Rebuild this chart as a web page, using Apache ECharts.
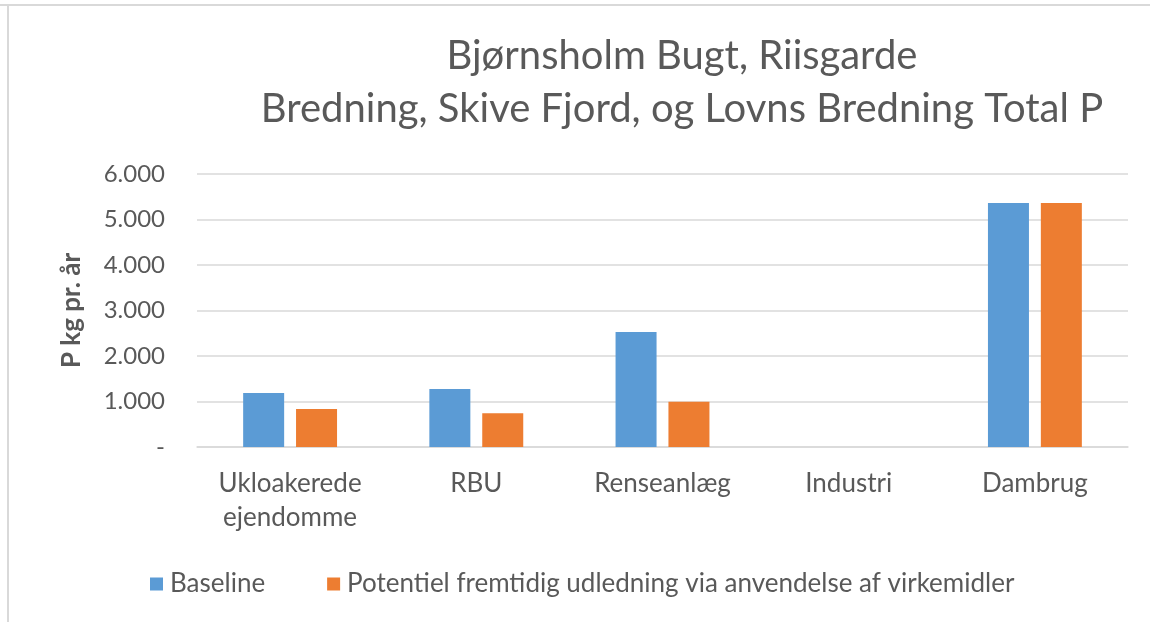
<!DOCTYPE html>
<html>
	<head>
		<meta charset="UTF-8">
		<title>Total P</title>
		<script src="https://cdn.jsdelivr.net/npm/echarts@6/dist/echarts.min.js"></script>
		<style type="text/css">
			body {
				margin: 0;
				background: #fff;
			}
			#chart {
				width: 1150px;
				height: 622px;
			}
		</style>
	</head>
	<body>
		<div id="chart"></div>
		<script type="text/javascript">
			var categories = ['Ukloakerede\nejendomme', 'RBU', 'Renseanlæg', 'Industri', 'Dambrug'];
			var baseline = [1185, 1275, 2530, 0, 5360];
			var potentiel = [835, 740, 995, 0, 5360];
			var seriesNames = ['Baseline', 'Potentiel fremtidig udledning via anvendelse af virkemidler'];
			var yTicks = [0, 6000, 1000];

			var font = 'Lato, "Open Sans", sans-serif';
			var grey = '#595959';

			function fmt(v) {
				if (v === 0) return '-';
				return String(v).replace(/\B(?=(\d{3})+(?!\d))/g, '.');
			}

			var chart = echarts.init(document.getElementById('chart'));
			chart.setOption({
				animation: false,
				textStyle: { fontFamily: font },
				title: {
					text: 'Bjørnsholm Bugt, Riisgarde\nBredning, Skive Fjord, og Lovns Bredning Total P',
					left: 677,
					top: 25,
					textAlign: 'center',
					textStyle: {
						fontFamily: font,
						fontWeight: 'normal',
						fontSize: 40,
						lineHeight: 53,
						color: grey
					}
				},
				graphic: [
					{ type: 'line', shape: { x1: 0, y1: 5, x2: 1150, y2: 5 }, style: { stroke: '#d9d9d9', lineWidth: 2 } },
					{ type: 'line', shape: { x1: 8, y1: 5, x2: 8, y2: 622 }, style: { stroke: '#d9d9d9', lineWidth: 2 } }
				],
				legend: {
					left: 145,
					top: 566,
					itemWidth: 13,
					itemHeight: 13,
					itemGap: 62,
					icon: 'rect',
					textStyle: { fontFamily: font, fontSize: 26, color: grey, padding: [0, 0, 0, 2] },
					data: seriesNames
				},
				grid: { left: 197, right: 22, top: 174, bottom: 175 },
				xAxis: {
					type: 'category',
					data: categories,
					axisTick: { show: false },
					axisLine: { lineStyle: { color: '#d9d9d9', width: 1.5 } },
					axisLabel: {
						color: grey,
						fontSize: 26,
						lineHeight: 34,
						margin: 20,
						interval: 0
					}
				},
				yAxis: {
					type: 'value',
					min: yTicks[0],
					max: yTicks[1],
					interval: yTicks[2],
					name: 'P kg pr. år',
					nameLocation: 'middle',
					nameRotate: 90,
					nameGap: 112,
					nameTextStyle: { fontSize: 26, fontWeight: 'bold', color: grey },
					axisLine: { show: false },
					axisTick: { show: false },
					splitLine: { lineStyle: { color: '#d9d9d9', width: 1.5 } },
					axisLabel: {
						color: grey,
						fontSize: 24,
						margin: 32,
						formatter: fmt
					}
				},
				series: [
					{
						name: seriesNames[0],
						type: 'bar',
						data: baseline,
						barWidth: 41,
						barGap: '29%',
						itemStyle: { color: '#5B9BD5' }
					},
					{
						name: seriesNames[1],
						type: 'bar',
						data: potentiel,
						barWidth: 41,
						itemStyle: { color: '#ED7D31' }
					}
				]
			});
		</script>
	</body>
</html>
